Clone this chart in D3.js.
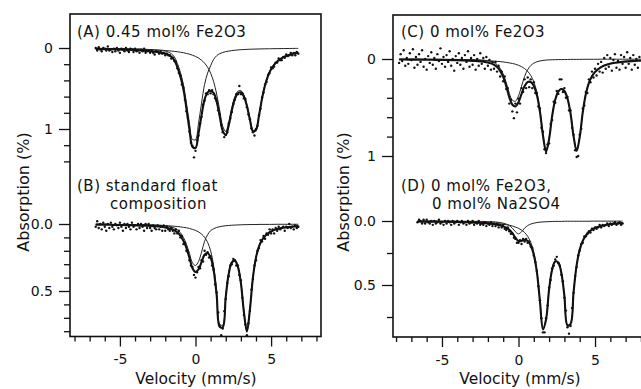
<!DOCTYPE html>
<html>
<head>
<meta charset="utf-8">
<script src="https://cdn.jsdelivr.net/npm/d3@7"></script>
<style>
  body { margin: 0; background: #fff; }
  svg { display: block; }
  text { font-family: "DejaVu Sans", sans-serif; fill: #111; }
</style>
</head>
<body>
<script>
// velocity grid (mm/s) used for the fitted curves
const velCurve = [-6.6,-6,-5.4,-4.8,-4.2,-3.6,-3.2,-2.8,-2.4,-2,-1.8,-1.6,-1.4,-1.2,-1,-0.8,-0.6,-0.4,-0.2,0,0.2,0.4,0.6,0.8,1,1.2,1.4,1.6,1.8,2,2.2,2.4,2.6,2.8,3,3.2,3.4,3.6,3.8,4,4.2,4.4,4.6,4.8,5,5.4,5.8,6.2,6.6,6.8];
const velCurveC = [-7.8,-7.2,-6.6,-6,-5.4,-4.8,-4.2,-3.6,-3.2,-2.8,-2.4,-2,-1.8,-1.6,-1.4,-1.2,-1,-0.8,-0.6,-0.4,-0.2,0,0.2,0.4,0.6,0.8,1,1.2,1.4,1.6,1.8,2,2.2,2.4,2.6,2.8,3,3.2,3.4,3.6,3.8,4,4.2,4.4,4.6,4.8,5,5.4,5.8,6.2,6.6,6.8,7.2,7.6,8];

// velocity channels of the measured points
const velData = [-6.6,-6.5,-6.4,-6.3,-6.2,-6.1,-6,-5.9,-5.8,-5.7,-5.6,-5.5,-5.4,-5.3,-5.2,-5.1,-5,-4.9,-4.8,-4.7,-4.6,-4.5,-4.4,-4.3,-4.2,-4.1,-4,-3.9,-3.8,-3.7,-3.6,-3.5,-3.4,-3.3,-3.2,-3.1,-3,-2.9,-2.8,-2.7,-2.6,-2.5,-2.4,-2.3,-2.2,-2.1,-2,-1.9,-1.8,-1.7,-1.6,-1.5,-1.4,-1.3,-1.2,-1.1,-1,-0.9,-0.8,-0.7,-0.6,-0.5,-0.4,-0.3,-0.2,-0.1,0,0.1,0.2,0.3,0.4,0.5,0.6,0.7,0.8,0.9,1,1.1,1.2,1.3,1.4,1.5,1.6,1.7,1.8,1.9,2,2.1,2.2,2.3,2.4,2.5,2.6,2.7,2.8,2.9,3,3.1,3.2,3.3,3.4,3.5,3.6,3.7,3.8,3.9,4,4.1,4.2,4.3,4.4,4.5,4.6,4.7,4.8,4.9,5,5.1,5.2,5.3,5.4,5.5,5.6,5.7,5.8,5.9,6,6.1,6.2,6.3,6.4,6.5,6.6,6.7,6.8];
const velDataC = [-7.8,-7.7,-7.6,-7.5,-7.4,-7.3,-7.2,-7.1,-7,-6.9,-6.8,-6.7,-6.6,-6.5,-6.4,-6.3,-6.2,-6.1,-6,-5.9,-5.8,-5.7,-5.6,-5.5,-5.4,-5.3,-5.2,-5.1,-5,-4.9,-4.8,-4.7,-4.6,-4.5,-4.4,-4.3,-4.2,-4.1,-4,-3.9,-3.8,-3.7,-3.6,-3.5,-3.4,-3.3,-3.2,-3.1,-3,-2.9,-2.8,-2.7,-2.6,-2.5,-2.4,-2.3,-2.2,-2.1,-2,-1.9,-1.8,-1.7,-1.6,-1.5,-1.4,-1.3,-1.2,-1.1,-1,-0.9,-0.8,-0.7,-0.6,-0.5,-0.4,-0.3,-0.2,-0.1,0,0.1,0.2,0.3,0.4,0.5,0.6,0.7,0.8,0.9,1,1.1,1.2,1.3,1.4,1.5,1.6,1.7,1.8,1.9,2,2.1,2.2,2.3,2.4,2.5,2.6,2.7,2.8,2.9,3,3.1,3.2,3.3,3.4,3.5,3.6,3.7,3.8,3.9,4,4.1,4.2,4.3,4.4,4.5,4.6,4.7,4.8,4.9,5,5.1,5.2,5.3,5.4,5.5,5.6,5.7,5.8,5.9,6,6.1,6.2,6.3,6.4,6.5,6.6,6.7,6.8,6.9,7,7.1,7.2,7.3,7.4,7.5,7.6,7.7,7.8,7.9];

// (A) 0.45 mol% Fe2O3 : total fit, Sn4+ site, Sn2+ site, measured points (absorption %)
const fitA = [0.012,0.014,0.016,0.020,0.024,0.030,0.037,0.045,0.054,0.069,0.084,0.108,0.152,0.236,0.352,0.508,0.747,1.006,1.219,1.234,1.054,0.831,0.637,0.548,0.530,0.555,0.663,0.839,1.021,1.075,0.953,0.771,0.632,0.558,0.547,0.599,0.716,0.886,1.029,1.012,0.835,0.625,0.459,0.343,0.262,0.167,0.116,0.085,0.065,0.058];
const sn4A = [0.004,0.005,0.006,0.008,0.010,0.013,0.017,0.022,0.028,0.038,0.05,0.07,0.11,0.19,0.30,0.45,0.68,0.93,1.13,1.13,0.93,0.68,0.45,0.31,0.22,0.14,0.095,0.07,0.055,0.045,0.038,0.032,0.028,0.024,0.021,0.019,0.017,0.015,0.014,0.013,0.012,0.011,0.010,0.010,0.009,0.008,0.007,0.006,0.005,0.005];
const sn2A = [0.008,0.009,0.010,0.012,0.014,0.017,0.020,0.023,0.026,0.031,0.034,0.038,0.042,0.046,0.052,0.058,0.067,0.076,0.089,0.104,0.124,0.151,0.187,0.238,0.310,0.415,0.568,0.769,0.966,1.030,0.915,0.739,0.604,0.534,0.526,0.580,0.699,0.871,1.015,0.999,0.823,0.614,0.449,0.333,0.253,0.159,0.109,0.079,0.060,0.053];
const dataA = [0.00,0.03,-0.01,0.02,0.04,0.00,0.01,
  0.03,-0.02,0.03,0.02,0.05,0.01,0.04,0.00,0.03,0.06,
  0.01,0.02,0.04,0.00,0.03,0.05,0.01,0.02,0.05,0.01,
  0.04,0.03,0.06,0.02,0.04,0.01,0.06,0.04,0.03,0.06,
  0.03,0.06,0.08,0.04,0.05,0.07,0.05,0.07,0.06,0.09,
  0.07,0.09,0.09,0.13,0.12,0.16,0.17,0.25,0.31,0.34,
  0.45,0.49,0.64,0.78,0.86,1.03,1.17,1.21,1.35,1.27,
  1.14,1.08,0.93,0.85,0.70,0.65,0.56,0.57,0.52,0.56,
  0.52,0.57,0.62,0.65,0.77,0.82,0.95,1.04,1.10,1.07,
  1.04,0.93,0.87,0.79,0.69,0.64,0.57,0.57,0.47,0.57,
  0.56,0.62,0.63,0.73,0.82,0.88,0.99,1.04,1.08,1.00,
  0.96,0.83,0.75,0.61,0.55,0.45,0.42,0.33,0.31,0.24,
  0.25,0.23,0.18,0.18,0.13,0.15,0.15,0.11,0.12,0.08,
  0.10,0.09,0.06,0.09,0.06,0.09,0.05,0.07];

// (B) standard float composition
const fitB = [0.005,0.005,0.007,0.008,0.009,0.012,0.013,0.016,0.019,0.025,0.031,0.037,0.047,0.062,0.086,0.125,0.178,0.253,0.330,0.358,0.339,0.285,0.229,0.217,0.250,0.346,0.531,0.767,0.771,0.545,0.371,0.289,0.274,0.318,0.439,0.655,0.803,0.637,0.399,0.251,0.167,0.119,0.089,0.070,0.056,0.038,0.028,0.022,0.018,0.016];
const sn4B = [0.002,0.002,0.003,0.003,0.004,0.005,0.006,0.007,0.009,0.013,0.017,0.022,0.030,0.043,0.065,0.10,0.15,0.22,0.29,0.31,0.28,0.21,0.13,0.08,0.05,0.035,0.026,0.02,0.016,0.013,0.011,0.009,0.008,0.007,0.006,0.005,0.005,0.004,0.004,0.004,0.003,0.003,0.003,0.003,0.003,0.002,0.002,0.002,0.002,0.002];
const sn2B = [0.003,0.003,0.004,0.005,0.005,0.007,0.007,0.009,0.010,0.012,0.014,0.015,0.017,0.019,0.021,0.025,0.028,0.033,0.040,0.048,0.059,0.075,0.099,0.137,0.200,0.311,0.505,0.747,0.755,0.532,0.360,0.280,0.266,0.311,0.433,0.650,0.798,0.633,0.395,0.247,0.164,0.116,0.086,0.067,0.053,0.036,0.026,0.020,0.016,0.014];
const dataB = [0.02,-0.02,0.03,0.00,0.04,-0.01,0.02,
  0.05,0.00,0.03,-0.01,0.02,0.04,0.00,0.01,0.03,-0.01,
  0.02,0.05,0.00,0.03,0.00,0.02,0.04,-0.01,0.02,0.01,
  0.04,0.00,0.03,0.00,0.02,0.05,0.00,0.03,0.00,0.03,
  0.05,0.01,0.03,0.04,0.01,0.04,0.02,0.05,0.01,0.05,
  0.02,0.04,0.05,0.03,0.05,0.07,0.04,0.07,0.05,0.10,
  0.09,0.15,0.14,0.20,0.21,0.27,0.31,0.32,0.38,0.40,
  0.36,0.32,0.33,0.27,0.28,0.20,0.23,0.21,0.25,0.24,
  0.31,0.34,0.45,0.51,0.66,0.76,0.83,0.78,0.65,0.56,
  0.44,0.39,0.31,0.30,0.26,0.27,0.31,0.31,0.38,0.42,
  0.55,0.68,0.75,0.83,0.74,0.65,0.49,0.41,0.31,0.27,
  0.20,0.18,0.12,0.13,0.09,0.11,0.07,0.08,0.04,0.07,
  0.04,0.07,0.03,0.05,0.02,0.04,0.03,0.02,0.05,0.02,
  0.03,0.00,0.03,0.02,0.04,0.01,0.03,0.02];

// (C) 0 mol% Fe2O3
const fitC = [0.005,0.006,0.006,0.007,0.009,0.010,0.012,0.015,0.017,0.021,0.025,0.036,0.045,0.059,0.082,0.122,0.185,0.280,0.395,0.471,0.489,0.445,0.359,0.279,0.237,0.237,0.278,0.372,0.542,0.790,0.954,0.825,0.587,0.421,0.336,0.309,0.330,0.407,0.562,0.797,0.948,0.805,0.548,0.361,0.246,0.177,0.133,0.083,0.057,0.042,0.033,0.029,0.024,0.020,0.017];
const sn4C = [0.002,0.002,0.002,0.002,0.003,0.003,0.004,0.005,0.006,0.008,0.010,0.018,0.025,0.037,0.058,0.095,0.155,0.245,0.355,0.425,0.435,0.38,0.28,0.18,0.11,0.068,0.043,0.029,0.020,0.015,0.011,0.009,0.008,0.007,0.006,0.006,0.005,0.005,0.004,0.004,0.004,0.004,0.003,0.003,0.003,0.003,0.003,0.002,0.002,0.002,0.002,0.002,0.002,0.002,0.002];
const sn2C = [0.003,0.004,0.004,0.005,0.006,0.007,0.008,0.010,0.011,0.013,0.015,0.018,0.020,0.022,0.024,0.027,0.030,0.035,0.040,0.046,0.054,0.065,0.079,0.099,0.127,0.169,0.235,0.343,0.522,0.775,0.943,0.816,0.579,0.414,0.330,0.303,0.325,0.402,0.558,0.793,0.944,0.801,0.545,0.358,0.243,0.174,0.130,0.081,0.055,0.040,0.031,0.027,0.022,0.018,0.015];
const dataC = [0.04,-0.05,0.02,-0.09,0.07,-0.01,0.05,-0.06,0.01,
  -0.10,0.09,-0.02,0.06,-0.05,0.03,-0.09,0.08,0.00,0.11,
  -0.03,0.04,-0.07,0.06,-0.01,0.10,-0.05,0.02,-0.11,0.05,
  -0.02,0.08,-0.04,0.03,-0.08,0.07,0.00,0.12,-0.03,0.04,
  -0.06,0.06,-0.01,0.10,-0.04,0.03,-0.08,0.08,-0.01,0.06,
  -0.04,0.11,0.00,0.07,-0.06,0.05,-0.01,0.10,-0.02,0.07,
  0.01,0.11,0.03,0.10,0.03,0.13,0.07,0.18,0.13,0.23,
  0.18,0.31,0.30,0.46,0.42,0.54,0.61,0.46,0.55,0.41,
  0.46,0.30,0.34,0.21,0.30,0.19,0.29,0.21,0.30,0.24,
  0.35,0.35,0.49,0.51,0.71,0.75,0.93,0.97,0.88,0.87,
  0.67,0.63,0.44,0.45,0.33,0.36,0.21,0.21,0.34,0.30,
  0.40,0.39,0.53,0.53,0.71,0.78,0.94,1.01,1.00,0.78,
  0.72,0.51,0.48,0.34,0.35,0.21,0.24,0.13,0.19,0.10,
  0.17,0.05,0.13,0.03,0.14,-0.01,0.10,-0.04,0.08,-0.01,
  0.12,0.01,-0.05,0.09,0.02,0.11,-0.04,0.05,-0.02,0.09,
  -0.07,0.05,-0.01,0.11,-0.04,0.06,0.00,0.09,-0.02];

// (D) 0 mol% Fe2O3, 0 mol% Na2SO4
const fitD = [0.004,0.005,0.005,0.006,0.007,0.009,0.011,0.013,0.015,0.019,0.022,0.024,0.029,0.034,0.042,0.053,0.069,0.095,0.131,0.157,0.155,0.146,0.156,0.191,0.263,0.398,0.626,0.847,0.770,0.534,0.379,0.316,0.324,0.406,0.586,0.815,0.805,0.553,0.345,0.224,0.155,0.114,0.087,0.068,0.055,0.039,0.029,0.022,0.018,0.016];
const sn4D = [0.001,0.001,0.001,0.001,0.001,0.002,0.002,0.003,0.003,0.005,0.006,0.007,0.009,0.012,0.017,0.024,0.036,0.056,0.084,0.10,0.084,0.056,0.036,0.024,0.017,0.012,0.009,0.007,0.006,0.005,0.004,0.003,0.003,0.003,0.002,0.002,0.002,0.002,0.002,0.002,0.002,0.002,0.002,0.001,0.001,0.001,0.001,0.001,0.001,0.001];
const sn2D = [0.003,0.004,0.004,0.005,0.006,0.007,0.009,0.010,0.012,0.014,0.016,0.017,0.020,0.022,0.025,0.029,0.033,0.039,0.047,0.057,0.071,0.090,0.120,0.167,0.246,0.386,0.617,0.840,0.764,0.529,0.375,0.313,0.321,0.403,0.584,0.813,0.803,0.551,0.343,0.222,0.153,0.112,0.085,0.067,0.054,0.038,0.028,0.021,0.017,0.015];
const dataD = [0.01,-0.01,0.00,0.02,-0.01,0.02,-0.01,
  0.01,0.02,0.00,0.03,0.00,0.02,0.01,-0.01,0.02,0.01,
  0.03,0.00,0.02,0.00,0.01,0.03,0.00,0.02,0.01,0.00,
  0.03,0.01,0.00,0.02,0.01,0.03,0.00,0.02,0.01,0.00,
  0.03,0.01,0.02,0.00,0.03,0.02,0.03,0.01,0.04,0.02,
  0.03,0.01,0.04,0.02,0.04,0.02,0.05,0.03,0.05,0.03,
  0.06,0.07,0.05,0.08,0.10,0.10,0.13,0.14,0.17,0.17,
  0.15,0.18,0.14,0.16,0.14,0.17,0.16,0.20,0.21,0.27,
  0.32,0.39,0.51,0.62,0.76,0.87,0.87,0.76,0.66,0.52,
  0.46,0.37,0.35,0.30,0.28,0.33,0.35,0.42,0.47,0.60,
  0.70,0.83,0.88,0.82,0.68,0.56,0.43,0.36,0.27,0.23,
  0.18,0.17,0.12,0.12,0.10,0.08,0.09,0.06,0.07,0.05,
  0.06,0.05,0.03,0.05,0.03,0.04,0.03,0.02,0.04,0.02,
  0.03,0.02,0.01,0.03,0.02,0.01,0.03,0.02];

// tick values
const xMajor = [-5, 0, 5];
const xMinor = [-8,-7,-6,-4,-3,-2,-1,1,2,3,4,6,7,8];

const W = 641, H = 389;
const svg = d3.select('body').append('svg')
  .attr('width', W)
  .attr('height', H);

// x scales for the two columns
const xL = d3.scaleLinear().domain([-8.3, 8.3]).range([70, 321]);
const xR = d3.scaleLinear().domain([-8.2, 8.2]).range([393, 644]);

// y scales for the four stacked spectra
const yA = d3.scaleLinear().domain([0, 1]).range([48, 129]);
const yB = d3.scaleLinear().domain([0, 0.5]).range([224, 291]);
const yC = d3.scaleLinear().domain([0, 1]).range([59, 156]);
const yD = d3.scaleLinear().domain([0, 0.5]).range([221, 285]);

const panels = [
  {x: xL, y: yA, vc: velCurve, fit: fitA, s4: sn4A, s2: sn2A, vd: velData, pts: dataA,
   major: [0, 1], minor: [0.2, 0.4, 0.6, 0.8, 1.2, 1.4], fmt: d3.format('d')},
  {x: xL, y: yB, vc: velCurve, fit: fitB, s4: sn4B, s2: sn2B, vd: velData, pts: dataB,
   major: [0, 0.5], minor: [0.1, 0.2, 0.3, 0.4, 0.6, 0.7, 0.8], fmt: d3.format('.1f')},
  {x: xR, y: yC, vc: velCurveC, fit: fitC, s4: sn4C, s2: sn2C, vd: velDataC, pts: dataC,
   major: [0, 1], minor: [0.2, 0.4, 0.6, 0.8], fmt: d3.format('d')},
  {x: xR, y: yD, vc: velCurve, fit: fitD, s4: sn4D, s2: sn2D, vd: velData, pts: dataD,
   major: [0, 0.5], minor: [0.25, 0.75], fmt: d3.format('.1f')}
];

// frames (the right one runs off the edge of the picture)
const frames = [
  {x0: 70, x1: 321, y0: 14, y1: 336.5, x: xL},
  {x0: 393, x1: 644, y0: 15, y1: 337, x: xR}
];

frames.forEach(f => {
  svg.append('rect')
    .attr('x', f.x0).attr('y', f.y0)
    .attr('width', f.x1 - f.x0).attr('height', f.y1 - f.y0)
    .attr('fill', 'none').attr('stroke', '#111').attr('stroke-width', 1.6);

  const gMaj = svg.append('g').attr('transform', `translate(0,${f.y1})`)
    .call(d3.axisBottom(f.x).tickValues(xMajor).tickSize(10).tickPadding(8).tickFormat(d => String(d)));
  const gMin = svg.append('g').attr('transform', `translate(0,${f.y1})`)
    .call(d3.axisBottom(f.x).tickValues(xMinor).tickSize(5).tickFormat(''));
  [gMaj, gMin].forEach(g => {
    g.select('.domain').remove();
    g.selectAll('line').attr('stroke', '#111').attr('stroke-width', 1.3);
    g.selectAll('text').style('font-size', '14px').style('font-family', '"DejaVu Sans", sans-serif').attr('fill', '#111');
  });
});

const curve = d3.curveCatmullRom.alpha(0.5);

panels.forEach(p => {
  const x0 = p.x.range()[0];
  const gMaj = svg.append('g').attr('transform', `translate(${x0},0)`)
    .call(d3.axisLeft(p.y).tickValues(p.major).tickSize(11).tickPadding(6).tickFormat(p.fmt));
  const gMin = svg.append('g').attr('transform', `translate(${x0},0)`)
    .call(d3.axisLeft(p.y).tickValues(p.minor).tickSize(6).tickFormat(''));
  [gMaj, gMin].forEach(g => {
    g.select('.domain').remove();
    g.selectAll('line').attr('stroke', '#111').attr('stroke-width', 1.3);
    g.selectAll('text').style('font-size', '14px').style('font-family', '"DejaVu Sans", sans-serif').attr('fill', '#111');
  });

  const line = d3.line()
    .x((d, i) => p.x(p.vc[i]))
    .y(d => p.y(d))
    .curve(curve);

  // the two sub-spectra, thin
  [p.s4, p.s2].forEach(s => {
    svg.append('path').attr('d', line(s))
      .attr('fill', 'none').attr('stroke', '#222').attr('stroke-width', 1);
  });

  // total fit, thick
  svg.append('path').attr('d', line(p.fit))
    .attr('fill', 'none').attr('stroke', '#111').attr('stroke-width', 2.1)
    .attr('stroke-linejoin', 'round');

  // measured points
  svg.append('g')
    .selectAll('circle')
    .data(p.pts)
    .join('circle')
    .attr('cx', (d, i) => p.x(p.vd[i]))
    .attr('cy', d => p.y(d))
    .attr('r', 1.2)
    .attr('fill', '#111');
});

// panel captions; a second line is a wrapped tspan of the same caption
const captions = [
  {lines: ['(A) 0.45 mol% Fe2O3'], x: 77, y: 36.5, indent: 0},
  {lines: ['(B) standard float', 'composition'], x: 77, y: 191, indent: 33},
  {lines: ['(C) 0 mol% Fe2O3'], x: 401, y: 37, indent: 0},
  {lines: ['(D) 0 mol% Fe2O3,', '0 mol% Na2SO4'], x: 401, y: 191, indent: 31}
];
captions.forEach(c => {
  const t = svg.append('text')
    .attr('x', c.x).attr('y', c.y)
    .style('font-size', '15px')
    .style('letter-spacing', '0.5px');
  c.lines.forEach((s, i) => {
    t.append('tspan')
      .attr('x', i === 0 ? c.x : c.x + c.indent)
      .attr('dy', i === 0 ? 0 : 17.8)
      .text(s);
  });
});

// axis titles
[{x: 196}, {x: 520}].forEach(d => {
  svg.append('text').attr('x', d.x).attr('y', 384)
    .attr('text-anchor', 'middle').style('font-size', '15.5px')
    .text('Velocity (mm/s)');
});
[{x: 29}, {x: 349}].forEach(d => {
  svg.append('text').attr('transform', `translate(${d.x},192) rotate(-90)`)
    .attr('text-anchor', 'middle').style('font-size', '16px')
    .text('Absorption (%)');
});
</script>
</body>
</html>
